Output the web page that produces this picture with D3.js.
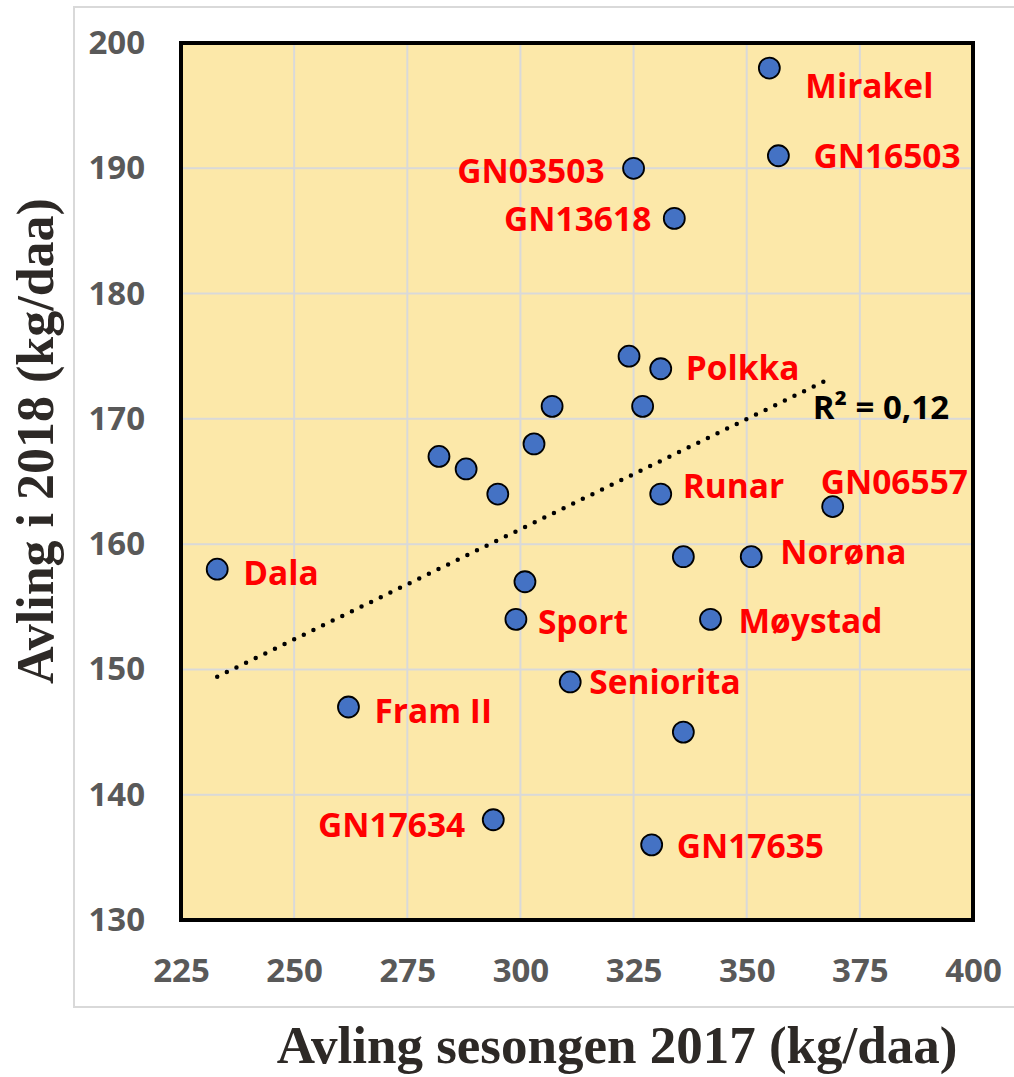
<!DOCTYPE html>
<html><head><meta charset="utf-8">
<script src="https://cdn.jsdelivr.net/npm/d3@7"></script>
<style>body{margin:0;background:#fff}</style>
</head><body>
<svg id="chart" width="1014" height="1077"></svg>
<script>
// ---- data ----
const varieties = ["Mirakel","GN16503","GN03503","GN13618","","Polkka","","","","","","","Runar","GN06557","","Norøna","Dala","","Sport","Møystad","Seniorita","Fram II","","GN17634","GN17635"];
const yield2017 = [355,357,325,334,324,331,327,307,303,282,288,295,331,369,336,351,233,301,299,342,311,262,336,294,329];
const yield2018 = [198,191,190,186,175,174,171,171,168,167,166,164,164,163,159,159,158,157,154,154,149,147,145,138,136];
const xTicks = [225,250,275,300,325,350,375,400];
const yTicks = [130,140,150,160,170,180,190,200];
const r2Label = "R² = 0,12";
const xTitle = "Avling sesongen 2017 (kg/daa)";
const yTitle = "Avling i 2018 (kg/daa)";

// ---- label placement (layout only) ----
const labelPlace = {
  "Mirakel":[36,30,"start"], "GN16503":[35,12,"start"], "GN03503":[-29,15,"end"],
  "GN13618":[-23,13,"end"], "Polkka":[25,11,"start"], "Runar":[22,4,"start"],
  "GN06557":[-12,-13,"start"], "Norøna":[29,7,"start"], "Møystad":[28,14,"start"],
  "Sport":[22,15,"start"], "Dala":[26,16,"start"], "Seniorita":[19,12,"start"],
  "Fram II":[26,16,"start"], "GN17634":[-28,17,"end"], "GN17635":[25,13,"start"]
};

const svg = d3.select("#chart");
const L = 181, R = 973, T = 43, B = 920;
const x = d3.scaleLinear().domain([225,400]).range([L,R]);
const y = d3.scaleLinear().domain([130,200]).range([B,T]);
const sans = "'Open Sans', sans-serif";
const serif = "'Liberation Serif','Times New Roman',serif";

// outer chart-area frame
svg.append("rect").attr("x",74).attr("y",7).attr("width",960).attr("height",1000)
  .attr("fill","#fff").attr("stroke","#d9d9d9").attr("stroke-width",2);

// plot background
svg.append("rect").attr("x",L).attr("y",T).attr("width",R-L).attr("height",B-T)
  .attr("fill","#fce8a9");

// gridlines
svg.append("g").selectAll("line").data(xTicks.slice(1,-1)).join("line")
  .attr("x1",d=>x(d)).attr("x2",d=>x(d)).attr("y1",T).attr("y2",B)
  .attr("stroke","#d9d9d9").attr("stroke-width",2);
svg.append("g").selectAll("line").data(yTicks.slice(1,-1)).join("line")
  .attr("y1",d=>y(d)).attr("y2",d=>y(d)).attr("x1",L).attr("x2",R)
  .attr("stroke","#d9d9d9").attr("stroke-width",2);

// axes (labels only)
const yAxis = d3.axisLeft(y).tickValues(yTicks).tickSize(0).tickPadding(36);
const gy = svg.append("g").attr("transform",`translate(${L},0)`).call(yAxis);
const xAxis = d3.axisBottom(x).tickValues(xTicks).tickSize(0).tickPadding(39);
const gx = svg.append("g").attr("transform",`translate(0,${B})`).call(xAxis);
[gx,gy].forEach(g=>{
  g.select(".domain").remove();
  g.selectAll("text").attr("font-family",sans).attr("font-weight",700)
   .attr("font-size",33).attr("fill","#595959");
});

// plot border
svg.append("rect").attr("x",L).attr("y",T).attr("width",R-L).attr("height",B-T)
  .attr("fill","none").attr("stroke","#000").attr("stroke-width",4);

// trendline (least squares)
const n = yield2017.length;
const mx = d3.mean(yield2017), my = d3.mean(yield2018);
let sxy=0, sxx=0;
for(let i=0;i<n;i++){ sxy+=(yield2017[i]-mx)*(yield2018[i]-my); sxx+=(yield2017[i]-mx)**2; }
const slope = sxy/sxx, icpt = my - slope*mx;
const [xmin,xmax] = d3.extent(yield2017);
svg.append("line")
  .attr("x1",x(xmin)).attr("y1",y(icpt+slope*xmin))
  .attr("x2",x(xmax)).attr("y2",y(icpt+slope*xmax))
  .attr("stroke","#000").attr("stroke-width",4.5).attr("stroke-linecap","round")
  .attr("stroke-dasharray","0,10.7");

svg.append("text").attr("x",x(xmax)-20).attr("y",y(icpt+slope*xmax)+42)
  .attr("font-family",sans).attr("font-weight",700)
  .attr("font-size",33).attr("fill","#000").text(r2Label);

// points
const pts = yield2017.map((v,i)=>({x:v,y:yield2018[i],name:varieties[i]}));
svg.append("g").selectAll("circle").data(pts).join("circle")
  .attr("cx",d=>x(d.x)).attr("cy",d=>y(d.y)).attr("r",10.5)
  .attr("fill","#4472c4").attr("stroke","#000").attr("stroke-width",1.8);

// labels
svg.append("g").selectAll("text").data(pts.filter(d=>d.name)).join("text")
  .attr("x",d=>x(d.x)+labelPlace[d.name][0])
  .attr("y",d=>y(d.y)+labelPlace[d.name][1])
  .attr("text-anchor",d=>labelPlace[d.name][2])
  .attr("font-family",sans).attr("font-weight",700)
  .attr("font-size",33.5).attr("fill","#ff0000").text(d=>d.name);

// axis titles
svg.append("text").attr("x",617).attr("y",1063).attr("text-anchor","middle")
  .attr("font-family",serif).attr("font-weight",700)
  .attr("font-size",53).attr("fill","#2d2926").text(xTitle);
svg.append("text").attr("transform","translate(53,441) rotate(-90)").attr("text-anchor","middle")
  .attr("font-family",serif).attr("font-weight",700)
  .attr("font-size",52).attr("fill","#2d2926").text(yTitle);
</script>
</body></html>
